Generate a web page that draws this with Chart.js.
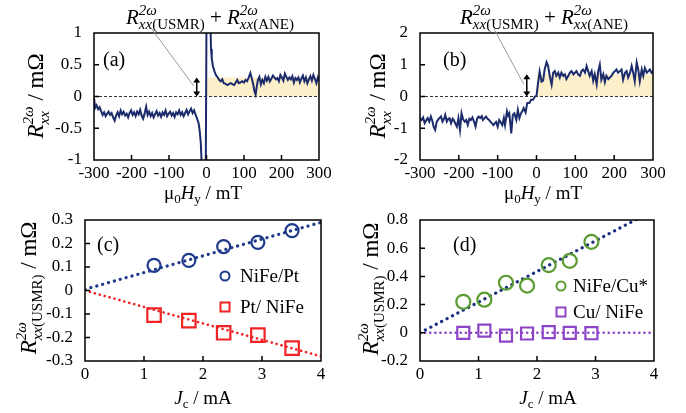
<!DOCTYPE html>
<html>
<head>
<meta charset="utf-8">
<script src="https://cdn.jsdelivr.net/npm/chart.js@4.4.0/dist/chart.umd.min.js"></script>
<style>
html, body { margin: 0; padding: 0; background: #fff; }
#wrap { position: relative; width: 686px; height: 413px; }
canvas { position: absolute; left: 0; top: 0; }
</style>
</head>
<body>
<div id="wrap">
  <canvas id="pa" width="686" height="413"></canvas>
  <canvas id="pb" width="686" height="413"></canvas>
  <canvas id="pc" width="686" height="413"></canvas>
  <canvas id="pd" width="686" height="413"></canvas>
</div>
<script>
// ---- data ----
// (a) NiFe/Pt field sweep, mT vs mOhm
var fieldA = [-300,-297,-293,-289,-285,-281,-277,-273,-269,-265,-261,-257,-253,-249,-245,-241,-237,-233,-229,-225,-221,-217,-213,-209,-205,-201,-197,-193,-189,-185,-181,-177,-173,-169,-165,-161,-157,-153,-149,-145,-141,-137,-133,-129,-125,-121,-117,-113,-109,-105,-101,-97,-93,-89,-85,-81,-77,-73,-69,-65,-61,-57,-53,-49,-45,-41,-37,-33,-29,-25,-21,-18,-15,-12,-8,-3,1,6,10,12,14,17,21,25,30,34,38,42,46,51,56,61,65,70,74,78,82,86,90,95,100,104,108,112,117,121,125,128,131,134,137,141,145,149,153,157,161,165,169,173,177,181,185,189,193,197,201,205,209,213,217,221,225,229,233,237,241,245,249,253,257,261,265,269,273,277,281,285,289,293,297,300];
var signalA = [-0.02,-0.18,-0.14,-0.20,-0.17,-0.23,-0.29,-0.25,-0.31,-0.27,-0.24,-0.29,-0.26,-0.33,-0.38,-0.30,-0.25,-0.31,-0.22,-0.28,-0.24,-0.30,-0.27,-0.33,-0.26,-0.22,-0.29,-0.25,-0.31,-0.24,-0.28,-0.21,-0.30,-0.35,-0.27,-0.16,-0.29,-0.24,-0.31,-0.26,-0.33,-0.28,-0.23,-0.30,-0.26,-0.32,-0.25,-0.29,-0.22,-0.31,-0.27,-0.24,-0.30,-0.26,-0.32,-0.25,-0.28,-0.22,-0.29,-0.25,-0.31,-0.26,-0.21,-0.28,-0.23,-0.19,-0.26,-0.22,-0.29,-0.35,-0.42,-0.55,-0.75,-1.2,-2.0,-2.5,2.5,2.5,1.3,0.75,0.6,0.48,0.40,0.34,0.30,0.26,0.24,0.27,0.21,0.20,0.18,0.20,0.21,0.19,0.18,0.22,0.26,0.21,0.22,0.24,0.22,0.26,0.24,0.29,0.37,0.28,0.18,0.08,0.03,0.15,0.26,0.31,0.19,0.26,0.21,0.31,0.25,0.31,0.24,0.28,0.33,0.30,0.27,0.29,0.24,0.34,0.30,0.25,0.36,0.31,0.26,0.30,0.27,0.32,0.22,0.29,0.26,0.30,0.22,0.28,0.33,0.24,0.30,0.21,0.27,0.32,0.25,0.34,0.28,0.21,0.30,0.24];
var bandXA = [0, 300];
var bandTopA = 0.3;

// (b) NiFe/Cu field sweep
var fieldB = [-300,-296,-292,-288,-284,-280,-276,-272,-268,-265,-261,-257,-253,-250,-246,-242,-238,-235,-231,-227,-224,-220,-216,-213,-209,-205,-201,-197,-193,-189,-185,-181,-177,-173,-169,-165,-161,-157,-153,-149,-145,-141,-138,-134,-130,-126,-122,-119,-115,-111,-107,-104,-100,-96,-92,-88,-84,-81,-76,-73,-70,-65,-61,-57,-52,-48,-44,-40,-36,-33,-28,-24,-18,-14,-9,-4,0,4,8,13,17,21,26,30,34,39,43,47,51,56,60,64,69,73,77,82,86,90,95,99,103,107,112,116,120,125,129,133,137,142,146,150,155,159,163,167,172,176,180,185,189,193,198,202,206,210,215,219,223,228,232,236,241,245,249,253,258,262,266,271,275,279,284,288,292,296,300];
var signalB = [-0.68,-0.74,-0.66,-0.84,-0.75,-0.68,-0.79,-0.63,-0.78,-0.95,-1.05,-0.80,-0.72,-0.68,-0.63,-0.79,-0.70,-0.58,-0.79,-0.70,-0.68,-0.84,-0.70,-0.74,-0.85,-0.95,-0.68,-1.05,-0.53,-0.72,-0.79,-0.74,-0.90,-0.70,-0.74,-0.66,-0.79,-0.95,-0.70,-0.63,-0.68,-0.62,-0.74,-0.68,-0.63,-0.70,-0.74,-0.79,-0.84,-0.90,-0.84,-0.80,-0.95,-0.74,-0.82,-0.90,-0.68,-0.90,-0.47,-0.60,-0.53,-1.16,-0.58,-0.53,-0.74,-0.42,-0.68,-0.53,-0.45,-0.37,-0.50,-0.21,-0.20,-0.10,-0.10,0.00,0.02,0.42,0.79,0.47,0.50,0.85,1.08,0.96,0.65,0.37,0.75,0.80,0.65,0.75,0.60,0.75,0.65,0.70,0.55,0.65,0.75,0.80,0.70,0.75,0.80,0.70,0.65,0.80,0.85,0.75,0.96,0.80,0.65,0.80,0.50,0.70,0.38,0.80,1.00,0.53,0.70,0.45,0.65,0.55,0.60,0.65,0.75,0.80,0.85,0.75,0.80,0.85,0.53,0.75,0.80,0.60,0.75,0.96,0.75,0.48,1.07,0.85,0.48,0.85,0.65,0.90,0.75,0.80,0.85,0.75,0.80];
var bandXB = [0, 300];
var bandTopB = 0.7;

// (c) current dependence
var currentC = [1.17, 1.76, 2.35, 2.93, 3.51];
var nifePt = [0.107, 0.128, 0.187, 0.205, 0.255];
var ptNife = [-0.105, -0.128, -0.18, -0.19, -0.245];
var fitX = [0, 4];
var fitNifePt = [0.005, 0.29];
var fitPtNife = [0, -0.28];

// (d)
var currentD = [0.74, 1.1, 1.47, 1.83, 2.2, 2.56, 2.93];
var nifeCu = [0.22, 0.235, 0.355, 0.335, 0.48, 0.51, 0.645];
var cuNife = [0, 0.016, -0.02, -0.005, 0.005, 0, -0.003];
var fitNifeCu = [0, 0.87];
var fitCuNife = [0, 0];

// tick labels
var fieldTicks = [-300, -200, -100, 0, 100, 200, 300];
var yTicksA = [-1, -0.5, 0, 0.5, 1];
var yTicksB = [-2, -1, 0, 1, 2];
var currentTicks = [0, 1, 2, 3, 4];
var yTicksC = [-0.3, -0.2, -0.1, 0, 0.1, 0.2, 0.3];
var yTicksD = [-0.2, 0, 0.2, 0.4, 0.6, 0.8];

// ---- drawing helpers ----
var W = 686, H = 413;
var SERIF = '"Liberation Serif", "Times New Roman", serif';

function pts(xs, ys) {
    return xs.map(function (x, i) { return { x: x, y: ys[i] }; });
}

function fontOf(r) { return (r.it ? 'italic ' : '') + r.sz + 'px ' + SERIF; }
function runsW(ctx, runs) {
    var w = 0;
    runs.forEach(function (r) { ctx.font = fontOf(r); w += ctx.measureText(r.t).width; });
    return w;
}
function drawRuns(ctx, runs, x, y) {
    runs.forEach(function (r) {
        ctx.font = fontOf(r);
        ctx.fillText(r.t, x, y + (r.dy || 0));
        x += ctx.measureText(r.t).width;
    });
}
function partW(ctx, p) {
    return p.up ? Math.max(runsW(ctx, p.up), runsW(ctx, p.dn)) : runsW(ctx, [p]);
}
// parts centred on x, baseline y, optional rotation
function rich(ctx, parts, x, y, rot) {
    ctx.save();
    ctx.translate(x, y);
    if (rot) ctx.rotate(rot);
    ctx.fillStyle = '#000';
    ctx.textAlign = 'left';
    ctx.textBaseline = 'alphabetic';
    var w = 0;
    parts.forEach(function (p) { w += partW(ctx, p); });
    var cx = -w / 2;
    parts.forEach(function (p) {
        if (p.up) {
            drawRuns(ctx, p.up, cx, p.upDy);
            drawRuns(ctx, p.dn, cx, p.dnDy);
        } else {
            drawRuns(ctx, [p], cx, 0);
        }
        cx += partW(ctx, p);
    });
    ctx.restore();
}
function plain(ctx, text, x, y, size) {
    ctx.save();
    ctx.font = size + 'px ' + SERIF;
    ctx.fillStyle = '#000';
    ctx.textAlign = 'left';
    ctx.fillText(text, x, y);
    ctx.restore();
}

function Rsym(sz, subSz, extra) {
    var dn = [{ t: 'xx', sz: subSz, it: true }];
    if (extra) dn.push({ t: extra, sz: subSz });
    return [
        { t: 'R', sz: sz, it: true },
        { up: [{ t: '2ω', sz: subSz, it: true }], dn: dn, upDy: -Math.round(sz * 0.45), dnDy: Math.round(sz * 0.25) }
    ];
}

var yTitleAB = Rsym(23, 15).concat([{ t: ' / mΩ', sz: 23 }]);
var yTitleCD = Rsym(23, 15, '(USMR)').concat([{ t: ' / mΩ', sz: 23 }]);
var annot = Rsym(21, 15, '(USMR)').concat([{ t: ' + ', sz: 21 }]).concat(Rsym(21, 15, '(ANE)'));
var xTitleAB = [{ t: 'μ', sz: 19 }, { t: '0', sz: 13, dy: 4 }, { t: 'H', sz: 19, it: true }, { t: 'y', sz: 13, dy: 4 }, { t: ' / mT', sz: 19 }];
var xTitleCD = [{ t: 'J', sz: 19, it: true }, { t: 'c', sz: 13, dy: 4 }, { t: ' / mA', sz: 19 }];

function frame(chart, xt, yt) {
    var ctx = chart.ctx, a = chart.chartArea;
    var xs = chart.scales.x, ys = chart.scales.y;
    ctx.save();
    ctx.strokeStyle = '#000';
    ctx.lineWidth = 1.5;
    ctx.strokeRect(a.left, a.top, a.right - a.left, a.bottom - a.top);
    ctx.beginPath();
    xt.slice(1, -1).forEach(function (v) {
        var p = xs.getPixelForValue(v);
        ctx.moveTo(p, a.bottom); ctx.lineTo(p, a.bottom - 5);
    });
    yt.slice(1, -1).forEach(function (v) {
        var p = ys.getPixelForValue(v);
        ctx.moveTo(a.left, p); ctx.lineTo(a.left + 5, p);
    });
    ctx.stroke();
    ctx.restore();
}

function arrow(chart, xv, y0, y1, from) {
    var ctx = chart.ctx;
    var x = chart.scales.x.getPixelForValue(xv);
    var pa = chart.scales.y.getPixelForValue(y0);
    var pb = chart.scales.y.getPixelForValue(y1);
    ctx.save();
    ctx.strokeStyle = '#9a9a9a';
    ctx.lineWidth = 1;
    ctx.beginPath();
    ctx.moveTo(from[0], from[1]);
    ctx.lineTo(x - 3, (pa + pb) / 2 - 1);
    ctx.stroke();
    ctx.strokeStyle = '#000';
    ctx.fillStyle = '#000';
    ctx.lineWidth = 1.5;
    ctx.beginPath();
    ctx.moveTo(x, pa - 4); ctx.lineTo(x, pb + 4);
    ctx.stroke();
    ctx.beginPath();
    ctx.moveTo(x, pa); ctx.lineTo(x - 3.5, pa - 5); ctx.lineTo(x + 3.5, pa - 5); ctx.closePath();
    ctx.moveTo(x, pb); ctx.lineTo(x - 3.5, pb + 5); ctx.lineTo(x + 3.5, pb + 5); ctx.closePath();
    ctx.fill();
    ctx.restore();
}

function legendMark(ctx, kind, x, y, color) {
    ctx.save();
    ctx.strokeStyle = color;
    ctx.lineWidth = 2;
    ctx.beginPath();
    if (kind === 'circle') ctx.arc(x, y, 4.5, 0, Math.PI * 2);
    else ctx.rect(x - 4.5, y - 4.5, 9, 9);
    ctx.stroke();
    ctx.restore();
}

function fmt(v) { return v === 0 ? '0' : String(v); }

function panel(id, box, xt, yt, datasets, deco) {
    return new Chart(document.getElementById(id), {
        type: 'line',
        data: { datasets: datasets },
        options: {
            responsive: false,
            animation: false,
            devicePixelRatio: 1,
            layout: { padding: { left: 0, top: box.t, right: W - box.r, bottom: 0 } },
            plugins: { legend: { display: false }, tooltip: { enabled: false } },
            scales: {
                x: {
                    type: 'linear', min: xt[0], max: xt[xt.length - 1],
                    grid: { display: false }, border: { display: false },
                    afterBuildTicks: function (s) { s.ticks = xt.map(function (v) { return { value: v }; }); },
                    afterFit: function (s) { s.height = H - box.b; },
                    ticks: { autoSkip: false, maxRotation: 0, padding: -5, color: '#000',
                             font: { family: SERIF, size: 17 }, callback: fmt }
                },
                y: {
                    type: 'linear', min: yt[0], max: yt[yt.length - 1],
                    grid: { display: false }, border: { display: false },
                    afterBuildTicks: function (s) { s.ticks = yt.map(function (v) { return { value: v }; }); },
                    afterFit: function (s) { s.width = box.l; },
                    ticks: { autoSkip: false, padding: 4, color: '#000',
                             font: { family: SERIF, size: 17 }, callback: fmt }
                }
            }
        },
        plugins: [{
            id: 'deco' + id,
            afterDraw: function (chart) { frame(chart, xt, yt); deco(chart); }
        }]
    });
}

function sweepSets(xs, ys, bandX, bandTop) {
    return [
        { data: pts(xs, ys), borderColor: '#1b2b6b', borderWidth: 2, pointRadius: 0, tension: 0, order: 0 },
        { data: [{ x: -300, y: 0 }, { x: 300, y: 0 }], borderColor: '#333', borderWidth: 1,
          borderDash: [3, 2], pointRadius: 0, order: 1 },
        { data: pts(bandX, [bandTop, bandTop]), borderColor: 'rgba(0,0,0,0)', borderWidth: 0,
          pointRadius: 0, fill: 'origin', backgroundColor: '#fcefca', order: 2 }
    ];
}

function markerSet(xs, ys, style, color, r) {
    return { data: pts(xs, ys), showLine: false, pointStyle: style, pointRadius: r,
             pointBorderWidth: 2.2, pointBorderColor: color, pointBackgroundColor: 'rgba(0,0,0,0)',
             borderColor: color, order: 0 };
}
function fitSet(ys, color, w, gap) {
    return { data: pts(fitX, ys), borderColor: color, borderWidth: w, borderDash: [0.1, gap],
             borderCapStyle: 'round', pointRadius: 0, order: 1 };
}

var NAVY = '#1f3a8a', RED = '#f02424', GREEN = '#5a9b32', PURPLE = '#8b45c6';

panel('pa', { l: 94, t: 33, r: 319, b: 160 }, fieldTicks, yTicksA,
    sweepSets(fieldA, signalA, bandXA, bandTopA),
    function (c) {
        var ctx = c.ctx;
        arrow(c, -26, 0, bandTopA, [151, 28]);
        rich(ctx, annot, 210, 24);
        plain(ctx, '(a)', 103, 66, 20);
        rich(ctx, yTitleAB, 43, 96, -Math.PI / 2);
        rich(ctx, xTitleAB, 203, 199);
    });

panel('pb', { l: 420, t: 33, r: 653, b: 160 }, fieldTicks, yTicksB,
    sweepSets(fieldB, signalB, bandXB, bandTopB),
    function (c) {
        var ctx = c.ctx;
        arrow(c, -25, 0, bandTopB, [494, 29]);
        rich(ctx, annot, 544, 24);
        plain(ctx, '(b)', 443, 66, 20);
        rich(ctx, yTitleAB, 385, 96, -Math.PI / 2);
        rich(ctx, xTitleAB, 543, 199);
    });

panel('pc', { l: 85, t: 220, r: 321, b: 361 }, currentTicks, yTicksC,
    [markerSet(currentC, nifePt, 'circle', NAVY, 6.5),
     markerSet(currentC, ptNife, 'rect', RED, 9.5),
     fitSet(fitNifePt, NAVY, 3.2, 6),
     fitSet(fitPtNife, RED, 2.6, 5)],
    function (c) {
        var ctx = c.ctx;
        plain(ctx, '(c)', 97, 251, 20);
        legendMark(ctx, 'circle', 225, 276, NAVY);
        plain(ctx, 'NiFe/Pt', 240, 282, 19);
        legendMark(ctx, 'rect', 225, 307, RED);
        plain(ctx, 'Pt/ NiFe', 240, 313, 19);
        rich(ctx, yTitleCD, 36, 288, -Math.PI / 2);
        rich(ctx, xTitleCD, 203, 404);
    });

panel('pd', { l: 420, t: 220, r: 654, b: 361 }, currentTicks, yTicksD,
    [markerSet(currentD, nifeCu, 'circle', GREEN, 7),
     markerSet(currentD, cuNife, 'rect', PURPLE, 8.5),
     fitSet(fitNifeCu, '#1a3080', 3.2, 6),
     fitSet(fitCuNife, PURPLE, 2.6, 5)],
    function (c) {
        var ctx = c.ctx;
        plain(ctx, '(d)', 453, 251, 20);
        legendMark(ctx, 'circle', 561, 286, GREEN);
        plain(ctx, 'NiFe/Cu*', 573, 292, 19);
        legendMark(ctx, 'rect', 561, 312, PURPLE);
        plain(ctx, 'Cu/ NiFe', 573, 318, 19);
        rich(ctx, yTitleCD, 378, 289, -Math.PI / 2);
        rich(ctx, xTitleCD, 548, 404);
    });
</script>
</body>
</html>
